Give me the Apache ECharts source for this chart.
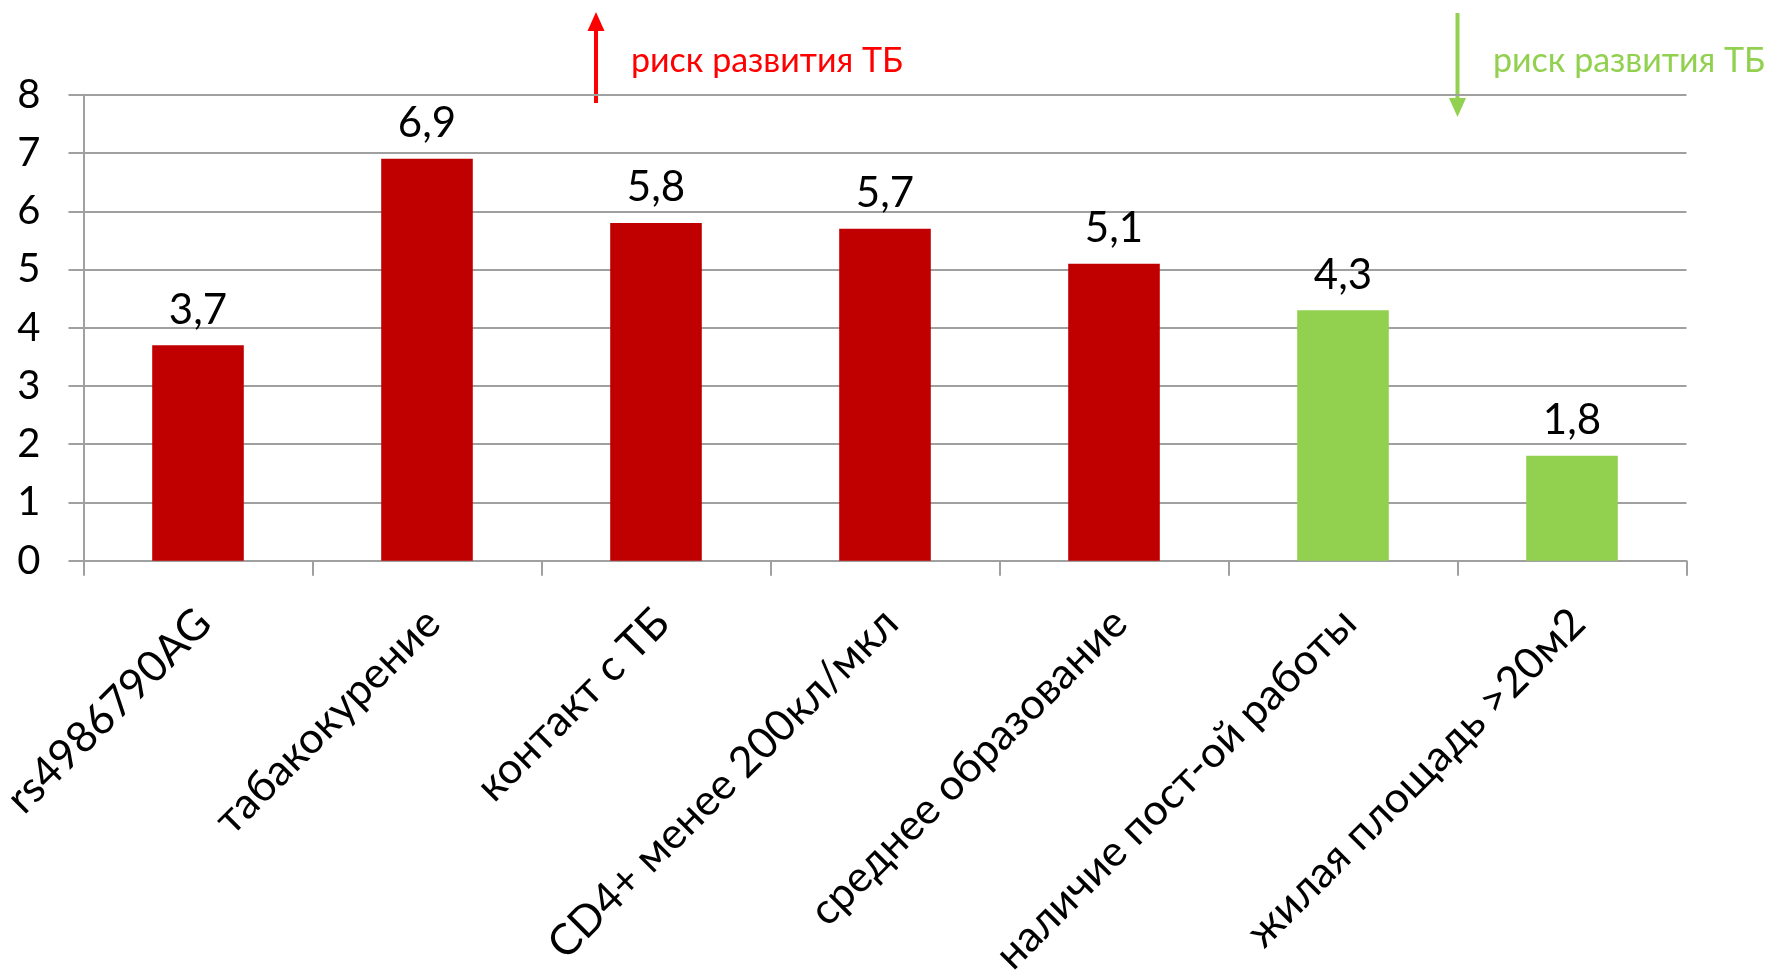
<!DOCTYPE html>
<html>
<head>
<meta charset="utf-8">
<script src="https://cdn.jsdelivr.net/npm/echarts@6/dist/echarts.min.js"></script>
<style>
  html, body { margin: 0; padding: 0; background: #fff; }
  #chart { width: 1769px; height: 976px; }
</style>
</head>
<body>
<div id="chart"></div>
<script>
// ---- data ----
var categories = [
  'rs4986790AG',
  'табакокурение',
  'контакт с ТБ',
  'CD4+ менее 200кл/мкл',
  'среднее образование',
  'наличие пост-ой работы',
  'жилая площадь >20м2'
];
var values = [3.7, 6.9, 5.8, 5.7, 5.1, 4.3, 1.8];
// direction of effect on TB risk for each factor
var riskDirection = ['up', 'up', 'up', 'up', 'up', 'down', 'down'];
var yTicks = [0, 1, 2, 3, 4, 5, 6, 7, 8];
var annotationText = 'риск развития ТБ';

// ---- styles ----
var FONT = 'Lato';
var RED = '#C00000';
var GREEN = '#92D050';
var GRID_GRAY = '#A0A0A0';

var chart = echarts.init(document.getElementById('chart'), null, { renderer: 'canvas' });

var option = {
  backgroundColor: '#ffffff',
  animation: false,
  grid: { left: 83.5, right: 82.5, top: 94.8, bottom: 415.3, containLabel: false, outerBoundsMode: 'none' },
  xAxis: {
    type: 'category',
    data: categories,
    boundaryGap: true,
    axisLine: { show: true, lineStyle: { color: GRID_GRAY, width: 2 } },
    axisTick: { show: true, alignWithLabel: false, length: 15, lineStyle: { color: GRID_GRAY, width: 2 } },
    axisLabel: {
      interval: 0,
      rotate: 45,
      align: 'right',
      verticalAlign: 'top',
      margin: 31,
      padding: [0, 13, 0, 0],
      color: '#000',
      fontFamily: FONT,
      fontSize: 43
    }
  },
  yAxis: {
    type: 'value',
    min: yTicks[0],
    max: yTicks[yTicks.length - 1],
    interval: 1,
    axisLine: { show: true, lineStyle: { color: GRID_GRAY, width: 2 } },
    axisTick: { show: true, length: 15, lineStyle: { color: GRID_GRAY, width: 2 } },
    splitLine: { show: true, lineStyle: { color: GRID_GRAY, width: 2 } },
    axisLabel: {
      margin: 43,
      color: '#000',
      fontFamily: FONT,
      fontSize: 40
    }
  },
  series: [{
    type: 'bar',
    data: values,
    barWidth: '40%',
    itemStyle: {
      color: function (p) { return riskDirection[p.dataIndex] === 'up' ? RED : GREEN; }
    },
    label: {
      show: true,
      position: 'top',
      distance: 14,
      color: '#000',
      fontFamily: FONT,
      fontSize: 42,
      formatter: function (p) { return p.value.toFixed(1).replace('.', ','); }
    }
  }],
  graphic: [
    // red "up" arrow + caption
    { type: 'line', shape: { x1: 596, y1: 103, x2: 596, y2: 28 }, style: { stroke: '#FF0000', lineWidth: 4 } },
    { type: 'polygon', shape: { points: [[596, 12], [587.5, 31], [604.5, 31]] }, style: { fill: '#FF0000' } },
    { type: 'text', x: 631, y: 61, style: { text: annotationText, fill: '#FF0000', font: '34px ' + FONT, verticalAlign: 'middle', align: 'left' } },
    // green "down" arrow + caption
    { type: 'line', shape: { x1: 1457.5, y1: 13, x2: 1457.5, y2: 100 }, style: { stroke: GREEN, lineWidth: 4 } },
    { type: 'polygon', shape: { points: [[1449, 98], [1466, 98], [1457.5, 117]] }, style: { fill: GREEN } },
    { type: 'text', x: 1493, y: 61, style: { text: annotationText, fill: GREEN, font: '34px ' + FONT, verticalAlign: 'middle', align: 'left' } }
  ]
};

chart.setOption(option);
</script>
</body>
</html>
